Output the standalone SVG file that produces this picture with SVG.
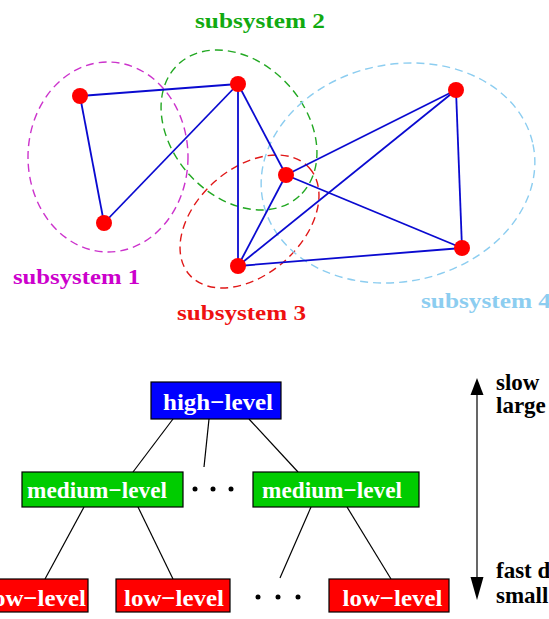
<svg xmlns="http://www.w3.org/2000/svg" width="549" height="619" viewBox="0 0 549 619">
<style>
.lbl{font-family:"Liberation Serif","Times New Roman",serif;font-weight:bold;font-size:22px}
.box{stroke:#000;stroke-width:1.2}
.bt{font-family:"Liberation Serif","Times New Roman",serif;font-weight:bold;font-size:24px;fill:#fff}
.rt{font-family:"Liberation Serif","Times New Roman",serif;font-weight:bold;font-size:23px;fill:#000}
.reg{fill:none;stroke-width:1.4;stroke-dasharray:8 5}
.edge{stroke:#0a0ad0;stroke-width:1.8;fill:none}
.tree{stroke:#000;stroke-width:1.2;fill:none}
.node{fill:#ff0000}
.dot{fill:#000}
</style>
<g id="regions">
<ellipse cx="108" cy="157" rx="80" ry="95" class="reg" stroke="#cc33cc"/>
<ellipse cx="239" cy="130" rx="89.5" ry="66.8" transform="rotate(47.6 239 130)" class="reg" stroke="#22a822"/>
<ellipse cx="249.5" cy="221.5" rx="80.3" ry="52.9" transform="rotate(-41.8 249.5 221.5)" class="reg" stroke="#e01818"/>
<ellipse cx="398" cy="173" rx="138" ry="108.6" transform="rotate(-12 398 173)" class="reg" stroke="#8ccdf0"/>
</g>
<g id="edges">
<line x1="80" y1="96" x2="238" y2="84" class="edge"/>
<line x1="80" y1="96" x2="104" y2="223" class="edge"/>
<line x1="104" y1="223" x2="238" y2="84" class="edge"/>
<line x1="238" y1="84" x2="238" y2="266" class="edge"/>
<line x1="238" y1="84" x2="286" y2="175" class="edge"/>
<line x1="286" y1="175" x2="238" y2="266" class="edge"/>
<line x1="286" y1="175" x2="456" y2="90" class="edge"/>
<line x1="286" y1="175" x2="462" y2="248" class="edge"/>
<line x1="238" y1="266" x2="456" y2="90" class="edge"/>
<line x1="238" y1="266" x2="462" y2="248" class="edge"/>
<line x1="456" y1="90" x2="462" y2="248" class="edge"/>
</g>
<g id="nodeA"><circle cx="80" cy="96" r="8" class="node"/></g>
<g id="nodeB"><circle cx="238" cy="84" r="8" class="node"/></g>
<g id="nodeC"><circle cx="104" cy="223" r="8" class="node"/></g>
<g id="nodeD"><circle cx="286" cy="175" r="8" class="node"/></g>
<g id="nodeE"><circle cx="456" cy="90" r="8" class="node"/></g>
<g id="nodeF"><circle cx="462" cy="248" r="8" class="node"/></g>
<g id="nodeG"><circle cx="238" cy="266" r="8" class="node"/></g>
<g id="labels">
<text x="13" y="284" class="lbl" fill="#cc00cc" textLength="127" lengthAdjust="spacingAndGlyphs">subsystem 1</text>
<text x="195" y="28" class="lbl" fill="#11aa11" textLength="130" lengthAdjust="spacingAndGlyphs">subsystem 2</text>
<text x="177" y="320" class="lbl" fill="#ee1111" textLength="129" lengthAdjust="spacingAndGlyphs">subsystem 3</text>
<text x="421" y="308" class="lbl" fill="#8ccdf0" textLength="130" lengthAdjust="spacingAndGlyphs">subsystem 4</text>
</g>
<g id="connectors">
<line x1="173" y1="419" x2="133" y2="472" class="tree"/>
<line x1="209" y1="419" x2="204" y2="467" class="tree"/>
<line x1="249" y1="419" x2="298" y2="472" class="tree"/>
<line x1="84" y1="507" x2="45" y2="579" class="tree"/>
<line x1="138" y1="507" x2="173" y2="579" class="tree"/>
<line x1="311" y1="507" x2="280" y2="578" class="tree"/>
<line x1="347" y1="507" x2="391" y2="579" class="tree"/>
<line x1="477" y1="392" x2="477" y2="580" class="tree"/>
<polygon points="477,378 470.5,395 483.5,395" fill="#000"/>
<polygon points="477,600 470.5,577 483.5,577" fill="#000"/>
</g>
<g id="high">
<rect x="151" y="382" width="130" height="37" fill="#0000ff" class="box"/>
<text x="163" y="410" class="bt" textLength="110" lengthAdjust="spacingAndGlyphs">high−level</text>
</g>
<g id="medium1">
<rect x="22" y="472" width="161" height="35" fill="#00cc00" class="box"/>
<text x="27" y="498" class="bt" textLength="140" lengthAdjust="spacingAndGlyphs">medium−level</text>
</g>
<g id="medium2">
<rect x="253" y="472" width="166" height="35" fill="#00cc00" class="box"/>
<text x="262" y="498" class="bt" textLength="140" lengthAdjust="spacingAndGlyphs">medium−level</text>
</g>
<g id="low1">
<rect x="-26" y="579" width="114" height="33" fill="#ff0000" class="box"/>
<text x="-14" y="606" class="bt" textLength="100" lengthAdjust="spacingAndGlyphs">low−level</text>
</g>
<g id="low2">
<rect x="116" y="579" width="114" height="33" fill="#ff0000" class="box"/>
<text x="124" y="606" class="bt" textLength="100" lengthAdjust="spacingAndGlyphs">low−level</text>
</g>
<g id="low3">
<rect x="329" y="579" width="120" height="33" fill="#ff0000" class="box"/>
<text x="342.5" y="606" class="bt" textLength="100" lengthAdjust="spacingAndGlyphs">low−level</text>
</g>
<g id="dots">
<circle cx="195" cy="489" r="2.5" class="dot"/>
<circle cx="213" cy="489" r="2.5" class="dot"/>
<circle cx="231" cy="489" r="2.5" class="dot"/>
<circle cx="258" cy="597" r="2.5" class="dot"/>
<circle cx="278" cy="597" r="2.5" class="dot"/>
<circle cx="298" cy="597" r="2.5" class="dot"/>
</g>
<g id="scale">
<text x="496" y="390" class="rt">slow</text>
<text x="496" y="413" class="rt">large</text>
<text x="496" y="578" class="rt">fast d</text>
<text x="496" y="603" class="rt">small</text>
</g>
</svg>
